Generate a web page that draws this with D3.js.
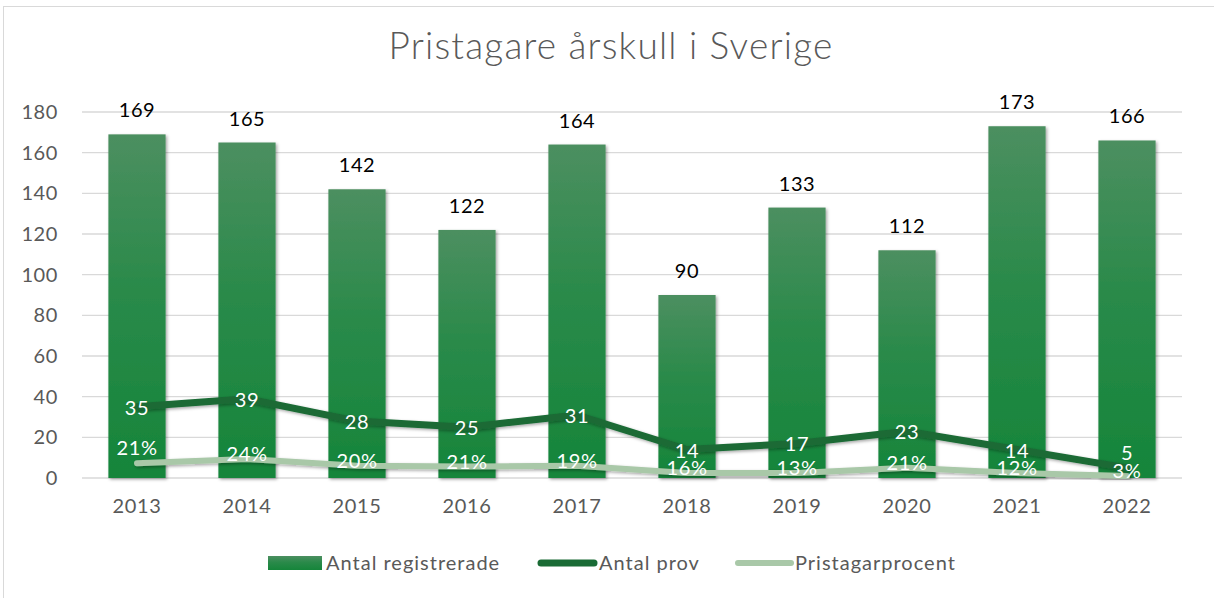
<!DOCTYPE html>
<html>
<head>
<meta charset="utf-8">
<script src="https://cdn.jsdelivr.net/npm/d3@7"></script>
<style>
  body { margin: 0; background: #fff; }
  text { font-family: Lato, "Open Sans", sans-serif; }
</style>
</head>
<body>
<div id="chart"></div>
<script>
var years = ['2013', '2014', '2015', '2016', '2017', '2018', '2019', '2020', '2021', '2022']
var registrerade = [169, 165, 142, 122, 164, 90, 133, 112, 173, 166]
var prov = [35, 39, 28, 25, 31, 14, 17, 23, 14, 5]
// line drawn at the winner count, labelled with the percentage
var pristagare = [7.3, 9.3, 6, 5.6, 6, 2.5, 2.5, 5, 2.5, 1]
var procentLabels = ['21%', '24%', '20%', '21%', '19%', '16%', '13%', '21%', '12%', '3%']
var yTicks = [0, 20, 40, 60, 80, 100, 120, 140, 160, 180]

var W = 1214, H = 598
var margin = {top: 112, right: 32, bottom: 120, left: 82}
var width = W - margin.left - margin.right
var height = H - margin.top - margin.bottom

var svg = d3.select('#chart').append('svg')
  .attr('width', W)
  .attr('height', H)

var defs = svg.append('defs')
var grad = defs.append('linearGradient')
  .attr('id', 'barGrad')
  .attr('x1', 0).attr('y1', 0).attr('x2', 0).attr('y2', 1)
grad.append('stop').attr('offset', '0%').attr('stop-color', '#4c8f60')
grad.append('stop').attr('offset', '45%').attr('stop-color', '#2a8a4a')
grad.append('stop').attr('offset', '100%').attr('stop-color', '#15853a')

var shadow = defs.append('filter').attr('id', 'shadow')
  .attr('x', '-20%').attr('y', '-20%').attr('width', '140%').attr('height', '140%')
shadow.append('feDropShadow')
  .attr('dx', 1.5).attr('dy', 1.5).attr('stdDeviation', 1.5)
  .attr('flood-color', '#000').attr('flood-opacity', 0.35)

// outer chart border
svg.append('rect')
  .attr('x', 3.5).attr('y', 6.5)
  .attr('width', W).attr('height', H)
  .attr('fill', 'none')
  .attr('stroke', '#d9d9d9')

svg.append('text')
  .attr('x', 611)
  .attr('y', 59)
  .attr('text-anchor', 'middle')
  .attr('font-size', 37)
  .attr('font-weight', 300)
  .attr('letter-spacing', 1.2)
  .attr('fill', '#595959')
  .text('Pristagare årskull i Sverige')

var g = svg.append('g')
  .attr('transform', 'translate(' + margin.left + ',' + margin.top + ')')

var x = d3.scaleBand().domain(years).range([0, width]).paddingInner(0.48).paddingOuter(0.24)
var y = d3.scaleLinear().domain([0, 180]).range([height, 0])
var cx = function(d) { return x(d) + x.bandwidth() / 2 }

// gridlines
g.append('g')
  .selectAll('line')
  .data(yTicks)
  .join('line')
  .attr('x1', 0).attr('x2', width)
  .attr('y1', function(d) { return y(d) }).attr('y2', function(d) { return y(d) })
  .attr('stroke', '#d9d9d9')
  .attr('stroke-width', 1.3)

var yAxis = d3.axisLeft(y).tickValues(yTicks).tickSize(0).tickPadding(24)
g.append('g')
  .attr('class', 'y axis')
  .call(yAxis)
  .call(function(a) { a.select('.domain').remove() })
  .selectAll('text')
  .attr('font-size', 20)
  .attr('letter-spacing', 0.6)
  .attr('fill', '#595959')

var xAxis = d3.axisBottom(x).tickSize(0).tickPadding(21)
g.append('g')
  .attr('class', 'x axis')
  .attr('transform', 'translate(0,' + height + ')')
  .call(xAxis)
  .call(function(a) { a.select('.domain').remove() })
  .selectAll('text')
  .attr('font-size', 20)
  .attr('letter-spacing', 0.6)
  .attr('fill', '#595959')

// bars
g.append('g')
  .selectAll('rect')
  .data(registrerade)
  .join('rect')
  .attr('x', function(d, i) { return x(years[i]) })
  .attr('y', function(d) { return y(d) })
  .attr('width', x.bandwidth())
  .attr('height', function(d) { return y(0) - y(d) })
  .attr('fill', 'url(#barGrad)')
  .attr('filter', 'url(#shadow)')

g.append('g')
  .selectAll('text')
  .data(registrerade)
  .join('text')
  .attr('x', function(d, i) { return cx(years[i]) })
  .attr('y', function(d) { return y(d) - 17 })
  .attr('text-anchor', 'middle')
  .attr('font-size', 20)
  .attr('letter-spacing', 0.6)
  .attr('fill', '#000')
  .text(function(d) { return d })

var line = d3.line()
  .x(function(d, i) { return cx(years[i]) })
  .y(function(d) { return y(d) })

g.append('path')
  .datum(pristagare)
  .attr('d', line)
  .attr('fill', 'none')
  .attr('stroke', '#a9c8a8')
  .attr('stroke-width', 6)
  .attr('stroke-linecap', 'round')
  .attr('stroke-linejoin', 'round')
  .attr('filter', 'url(#shadow)')

g.append('path')
  .datum(prov)
  .attr('d', line)
  .attr('fill', 'none')
  .attr('stroke', '#1a6b35')
  .attr('stroke-width', 7)
  .attr('stroke-linecap', 'round')
  .attr('stroke-linejoin', 'round')
  .attr('filter', 'url(#shadow)')

g.append('g')
  .selectAll('text')
  .data(procentLabels)
  .join('text')
  .attr('x', function(d, i) { return cx(years[i]) })
  .attr('y', function(d, i) { return y(pristagare[i]) - (i === 0 ? 15 : 5) })
  .attr('dy', '0.35em')
  .attr('text-anchor', 'middle')
  .attr('font-size', 20)
  .attr('letter-spacing', 0.6)
  .attr('fill', '#fff')
  .text(function(d) { return d })

g.append('g')
  .selectAll('text')
  .data(prov)
  .join('text')
  .attr('x', function(d, i) { return cx(years[i]) })
  .attr('y', function(d) { return Math.min(y(d), y(0) - 26) + 1 })
  .attr('dy', '0.35em')
  .attr('text-anchor', 'middle')
  .attr('font-size', 20)
  .attr('letter-spacing', 0.6)
  .attr('fill', '#fff')
  .text(function(d) { return d })

// legend
var legend = svg.append('g').attr('transform', 'translate(0,563)')
legend.append('rect')
  .attr('x', 268).attr('y', -7).attr('width', 54).attr('height', 14)
  .attr('fill', 'url(#barGrad)')
legend.append('text').attr('x', 326).attr('y', 0).attr('dy', '0.35em')
  .attr('font-size', 20).attr('letter-spacing', 1).attr('fill', '#595959').text('Antal registrerade')

legend.append('line')
  .attr('x1', 541).attr('x2', 594).attr('y1', 0).attr('y2', 0)
  .attr('stroke', '#1a6b35').attr('stroke-width', 7).attr('stroke-linecap', 'round')
legend.append('text').attr('x', 599).attr('y', 0).attr('dy', '0.35em')
  .attr('font-size', 20).attr('letter-spacing', 1).attr('fill', '#595959').text('Antal prov')

legend.append('line')
  .attr('x1', 738).attr('x2', 791).attr('y1', 0).attr('y2', 0)
  .attr('stroke', '#a9c8a8').attr('stroke-width', 6).attr('stroke-linecap', 'round')
legend.append('text').attr('x', 795).attr('y', 0).attr('dy', '0.35em')
  .attr('font-size', 20).attr('letter-spacing', 1).attr('fill', '#595959').text('Pristagarprocent')
</script>
</body>
</html>
